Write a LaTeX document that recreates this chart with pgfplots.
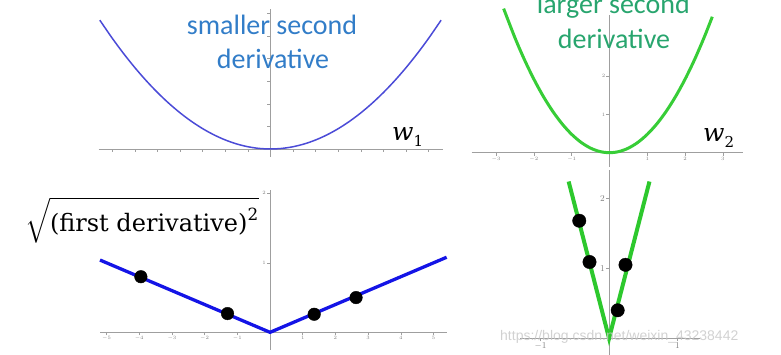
\documentclass[border=0pt]{standalone}
\usepackage{amsmath}
\usepackage{pgfplots}
\pgfplotsset{compat=1.18}
\usepackage{fontspec}
\newfontfamily\calib{Carlito}
\newfontfamily\wm{Liberation Sans}
\newfontfamily\dvs{DejaVu Serif}
\definecolor{blueCurve}{RGB}{75,75,215}
\definecolor{blueText}{RGB}{50,125,200}
\definecolor{greenText}{RGB}{40,165,110}
\definecolor{greenCurve}{RGB}{55,205,55}
\definecolor{blueLine}{RGB}{20,20,230}
\definecolor{greenLine}{RGB}{45,200,45}
\pgfplotsset{slide/.style={axis lines=middle,
  axis line style={draw=gray!75, line width=0.7pt, -},
  tick style={draw=gray!75, line width=0.5pt},
  major tick length=3pt, tick align=outside,
  scale only axis, clip=false, anchor=south west,
  ticklabel style={font=\fontsize{5}{5}\selectfont, text=gray, inner sep=1pt}}}
\begin{document}
\begin{tikzpicture}
\useasboundingbox (0,0) rectangle (781pt,354pt);
% top-left: smaller second derivative
\begin{axis}[slide, at={(98.7pt,197.1pt)}, x=22.6pt, y=22.6pt,
  xmin=-7.6, xmax=7.65, ymin=-0.35, ymax=6.2,
  xtick={-7,...,7}, ytick={1,...,6}, xticklabels={}, yticklabels={}]
\addplot[color=blueCurve, line width=1.5pt, smooth] coordinates {
(-7.55,5.70) (-7,4.9) (-6.5,4.225) (-6,3.6) (-5.5,3.025) (-5,2.5) (-4.5,2.025)
(-4,1.6) (-3.5,1.225) (-3,0.9) (-2.5,0.625) (-2,0.4) (-1.5,0.225) (-1,0.1)
(-0.5,0.025) (0,0) (0.5,0.025) (1,0.1) (1.5,0.225) (2,0.4) (2.5,0.625) (3,0.9)
(3.5,1.225) (4,1.6) (4.5,2.025) (5,2.5) (5.5,3.025) (6,3.6) (6.5,4.225)
(7,4.9) (7.55,5.70)};
\end{axis}
% top-right: larger second derivative
\begin{axis}[slide, at={(471.5pt,187.1pt)}, x=37.8pt, y=38.3pt,
  xmin=-3.65, xmax=3.53, ymin=-0.37, ymax=3.6,
  xtick={-3,...,3}, ytick={1,2}]
\addplot[color=greenCurve, line width=3pt, smooth] coordinates {
(-2.8,3.763) (-2.5,3.0) (-2.25,2.43) (-2,1.92) (-1.75,1.47) (-1.5,1.08)
(-1.25,0.75) (-1,0.48) (-0.75,0.27) (-0.5,0.12) (-0.25,0.03) (0,0)
(0.25,0.03) (0.5,0.12) (0.75,0.27) (1,0.48) (1.25,0.75) (1.5,1.08)
(1.75,1.47) (2,1.92) (2.25,2.43) (2.5,3.0) (2.72,3.55)};
\end{axis}
% bottom-left: |first derivative| for w1
\begin{axis}[slide, at={(100pt,4.3pt)}, x=32.7pt, y=69.5pt,
  xmin=-5.2, xmax=5.4, ymin=-0.25, ymax=2.05,
  xtick={-5,...,5}, ytick={0,1,2}]
\addplot[color=blueLine, line width=3.3pt] coordinates {(-5.2,1.04) (0,0) (5.4,1.08)};
\addplot[only marks, mark=*, mark size=6.3pt, color=black] coordinates {
(-3.95,0.8) (-1.3,0.27) (1.35,0.26) (2.63,0.5)};
\end{axis}
% bottom-right: |first derivative| for w2
\begin{axis}[slide, at={(520pt,-5.3pt)}, x=68.5pt, y=70pt,
  xmin=-1.3, xmax=1.33, ymin=-0.3, ymax=2.4,
  xtick={-1,0,1}, ytick={0,1,2},
  ticklabel style={font=\fontsize{9}{9}\selectfont, text=gray}]
\addplot[color=greenLine, line width=4pt] coordinates {(-0.59,2.24) (0,0) (0.59,2.24)};
\addplot[only marks, mark=*, mark size=6.7pt, color=black] coordinates {
(-0.435,1.68) (-0.285,1.09) (0.24,1.05) (0.126,0.40)};
\end{axis}
% texts
\node[anchor=base, text=blueText, font=\calib\fontsize{28}{30}\selectfont, inner sep=0pt] at (272pt,319pt) {smaller second};
\node[anchor=base, text=blueText, font=\calib\fontsize{28}{30}\selectfont, inner sep=0pt] at (273pt,285.7pt) {derivative};
\node[anchor=base, text=greenText, font=\calib\fontsize{28}{30}\selectfont, inner sep=0pt] at (613.3pt,340.5pt) {larger second};
\node[anchor=base, text=greenText, font=\calib\fontsize{28}{30}\selectfont, inner sep=0pt] at (614pt,305.7pt) {derivative};
\node[anchor=base west, inner sep=0pt] at (392pt,214pt) {\dvs\fontsize{25}{27}\selectfont\itshape w\upshape\fontsize{15}{15}\selectfont\raisebox{-6pt}{1}};
\node[anchor=base west, inner sep=0pt] at (703pt,212.3pt) {\dvs\fontsize{25}{27}\selectfont\itshape w\upshape\fontsize{15}{15}\selectfont\raisebox{-6pt}{2}};
\node[anchor=base west, font=\fontsize{24}{26}\selectfont, inner sep=0pt] at (25pt,122.3pt) {$\sqrt{\text{\dvs (first derivative)}^{\text{\dvs 2}}}$};
\node[anchor=base west, text=gray!45, opacity=0.8, font=\wm\fontsize{14}{16}\selectfont, inner sep=0pt] at (500pt,14pt) {https://blog.csdn.net/weixin\_43238442};
\end{tikzpicture}
\end{document}
